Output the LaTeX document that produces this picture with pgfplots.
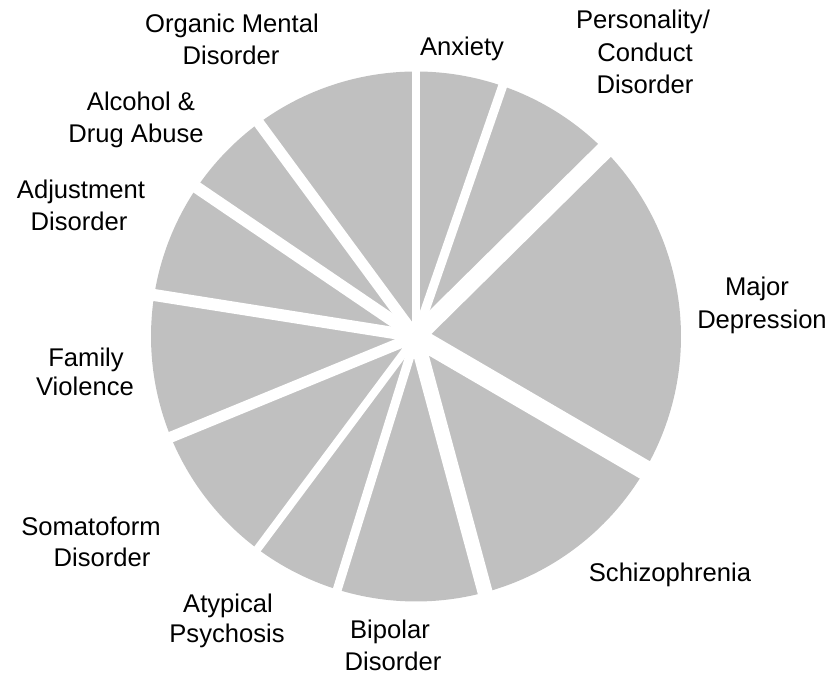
\documentclass[border=0pt]{standalone}
\usepackage{pgfplots}
\pgfplotsset{compat=1.18}
\usepackage{pgfplotstable}
\usepackage{fontspec}
\setmainfont{Liberation Sans}
\definecolor{piegray}{HTML}{C0C0C0}
% share (percent) of each slice, clockwise from 12 o'clock; gap = white gap width before slice
\pgfplotstableread{
value gap
5.3 8
7.3 9
20.8 18
12.4 20
9.0 15
5.4 9
8.6 8
8.7 11
7.0 12
5.4 12
10.1 11
}\pietable
\newcommand\lab[3]{\node[anchor=base,inner sep=0pt,font=\fontsize{25.6bp}{32bp}\selectfont] at (axis cs:#1,#2) {#3};}
\begin{document}
\begin{tikzpicture}
\begin{axis}[x=1bp,y=1bp,xmin=0,xmax=827,ymin=0,ymax=675,hide axis,clip=false]
\path (axis cs:0,0) rectangle (axis cs:827,675);
\pgfplotstablegetrowsof{\pietable}
\pgfmathtruncatemacro\N{\pgfplotsretval-1}
\def\cum{0}
\pgfplotsforeachungrouped \i in {0,...,\N}{%
  \pgfplotstablegetelem{\i}{value}\of\pietable
  \let\v\pgfplotsretval
  \pgfmathsetmacro\a{90-3.6*\cum}
  \pgfmathsetmacro\b{90-3.6*(\cum+\v)}
  \pgfmathsetmacro\px{416+265*cos(\a)}
  \pgfmathsetmacro\py{338.5+265*sin(\a)}
  \edef\temp{\noexpand\fill[piegray] (axis cs:416,338.5) -- (axis cs:\px,\py) arc[start angle=\a,end angle=\b,radius=265] -- cycle;}
  \temp
  \pgfmathsetmacro\cum{\cum+\v}
}
\def\cum{0}
\pgfplotsforeachungrouped \i in {0,...,\N}{%
  \pgfplotstablegetelem{\i}{value}\of\pietable
  \let\v\pgfplotsretval
  \pgfplotstablegetelem{\i}{gap}\of\pietable
  \let\g\pgfplotsretval
  \pgfmathsetmacro\a{90-3.6*\cum}
  \pgfmathsetmacro\qx{416+275*cos(\a)}
  \pgfmathsetmacro\qy{338.5+275*sin(\a)}
  \edef\temp{\noexpand\draw[white,line width=\g bp] (axis cs:416,338.5) -- (axis cs:\qx,\qy);}
  \temp
  \pgfmathsetmacro\cum{\cum+\v}
}
\lab{232}{642}{Organic Mental}
\lab{231}{610}{Disorder}
\lab{462}{619}{Anxiety}
\lab{643}{646}{Personality/}
\lab{645}{613}{Conduct}
\lab{645}{581}{Disorder}
\lab{757}{379}{Major}
\lab{762}{346}{Depression}
\lab{670}{93}{Schizophrenia}
\lab{390}{36}{Bipolar}
\lab{393}{4}{Disorder}
\lab{228}{62}{Atypical}
\lab{227}{32}{Psychosis}
\lab{91}{139}{Somatoform}
\lab{102}{108}{Disorder}
\lab{86}{308}{Family}
\lab{85}{279}{Violence}
\lab{81}{476}{Adjustment}
\lab{79}{444}{Disorder}
\lab{141}{564}{Alcohol \&}
\lab{136}{532}{Drug Abuse}
\end{axis}
\end{tikzpicture}
\end{document}
